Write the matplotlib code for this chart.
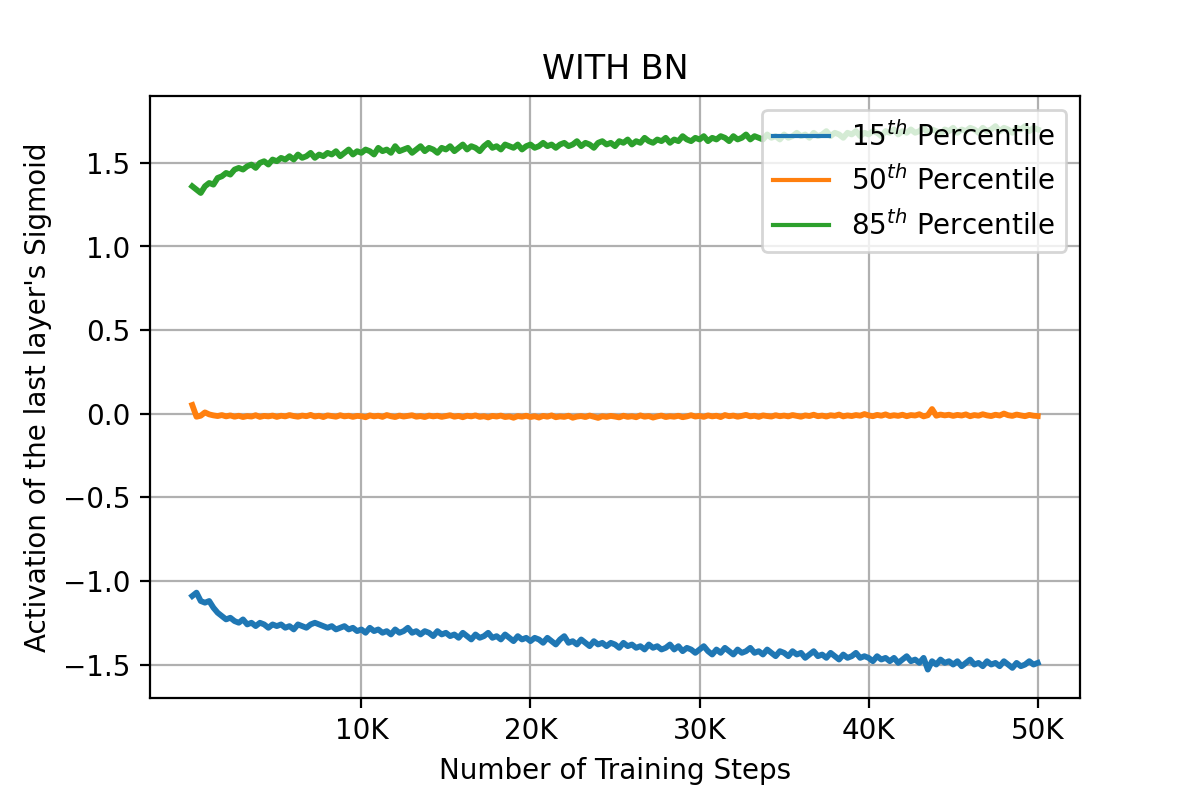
# plot.py
# Activation percentiles of the last sigmoid layer with batch norm

import numpy as np
import matplotlib
matplotlib.use("Agg")
import matplotlib.pyplot as plt

# ── Data (one value every 250 steps) ─────────────────────────────────────────
steps = np.arange(0, 50001, 250)

p15 = [
    -1.09, -1.07, -1.12, -1.13, -1.12, -1.16, -1.19, -1.21, -1.23, -1.22,
    -1.24, -1.25, -1.23, -1.26, -1.25, -1.27, -1.25, -1.26, -1.28, -1.26,
    -1.27, -1.26, -1.28, -1.27, -1.29, -1.26, -1.27, -1.28, -1.26, -1.25,
    -1.26, -1.27, -1.28, -1.27, -1.29, -1.28, -1.27, -1.29, -1.28, -1.30,
    -1.29, -1.31, -1.28, -1.30, -1.29, -1.31, -1.30, -1.32, -1.29, -1.31,
    -1.30, -1.28, -1.31, -1.30, -1.32, -1.30, -1.31, -1.33, -1.30, -1.32,
    -1.31, -1.33, -1.32, -1.34, -1.31, -1.33, -1.35, -1.32, -1.34, -1.33,
    -1.31, -1.34, -1.33, -1.35, -1.32, -1.34, -1.36, -1.33, -1.35, -1.34,
    -1.36, -1.34, -1.35, -1.37, -1.34, -1.36, -1.38, -1.35, -1.33, -1.37,
    -1.36, -1.38, -1.35, -1.37, -1.39, -1.36, -1.38, -1.37, -1.39, -1.37,
    -1.38, -1.40, -1.37, -1.39, -1.38, -1.40, -1.39, -1.41, -1.38, -1.40,
    -1.39, -1.41, -1.40, -1.38, -1.41, -1.39, -1.42, -1.40, -1.41, -1.43,
    -1.41, -1.39, -1.42, -1.44, -1.41, -1.43, -1.40, -1.42, -1.44, -1.41,
    -1.43, -1.42, -1.40, -1.43, -1.42, -1.44, -1.41, -1.43, -1.45, -1.42,
    -1.43, -1.45, -1.42, -1.44, -1.43, -1.46, -1.44, -1.42, -1.45, -1.44,
    -1.46, -1.43, -1.45, -1.47, -1.44, -1.46, -1.45, -1.43, -1.46, -1.45,
    -1.46, -1.48, -1.45, -1.47, -1.46, -1.48, -1.46, -1.49, -1.47, -1.45,
    -1.48, -1.47, -1.49, -1.46, -1.53, -1.48, -1.50, -1.47, -1.49, -1.48,
    -1.50, -1.48, -1.51, -1.49, -1.47, -1.50, -1.49, -1.51, -1.48, -1.50,
    -1.49, -1.51, -1.48, -1.50, -1.52, -1.49, -1.51, -1.50, -1.48, -1.50,
    -1.49,
]

p50 = [
    0.052, -0.018, -0.012, 0.008, -0.004, -0.010, -0.014, -0.008, -0.016, -0.010,
    -0.018, -0.012, -0.020, -0.014, -0.017, -0.009, -0.019, -0.013, -0.016, -0.011,
    -0.019, -0.012, -0.016, -0.008, -0.014, -0.018, -0.011, -0.015, -0.007, -0.017,
    -0.012, -0.020, -0.010, -0.014, -0.018, -0.009, -0.016, -0.012, -0.019, -0.013,
    -0.015, -0.021, -0.010, -0.016, -0.012, -0.019, -0.008, -0.015, -0.020, -0.011,
    -0.017, -0.013, -0.009, -0.018, -0.014, -0.020, -0.011, -0.016, -0.012, -0.019,
    -0.014, -0.009, -0.018, -0.013, -0.021, -0.012, -0.016, -0.010, -0.019, -0.015,
    -0.022, -0.013, -0.017, -0.011, -0.020, -0.016, -0.024, -0.014, -0.018, -0.012,
    -0.020, -0.015, -0.023, -0.013, -0.018, -0.010, -0.021, -0.016, -0.019, -0.012,
    -0.024, -0.017, -0.014, -0.020, -0.011, -0.018, -0.025, -0.015, -0.019, -0.013,
    -0.017, -0.022, -0.012, -0.019, -0.015, -0.021, -0.010, -0.018, -0.014, -0.023,
    -0.016, -0.011, -0.020, -0.015, -0.018, -0.012, -0.021, -0.016, -0.009, -0.017,
    -0.013, -0.019, -0.010, -0.016, -0.012, -0.020, -0.008, -0.015, -0.011, -0.018,
    -0.013, -0.007, -0.016, -0.012, -0.019, -0.010, -0.014, -0.017, -0.009, -0.015,
    -0.011, -0.016, -0.008, -0.013, -0.018, -0.010, -0.014, -0.006, -0.015, -0.011,
    -0.017, -0.009, -0.013, -0.005, -0.016, -0.010, -0.014, -0.008, -0.012, -0.002,
    -0.010, -0.015, -0.007, -0.012, -0.004, -0.014, -0.009, -0.013, -0.006, -0.015,
    -0.008, -0.011, -0.003, -0.016, -0.009, 0.028, -0.012, -0.005, -0.010, -0.006,
    -0.013, -0.007, -0.011, -0.004, -0.015, -0.008, -0.012, -0.003, -0.010, -0.014,
    -0.006, -0.011, 0.001, -0.009, -0.013, -0.005, -0.010, -0.015, -0.007, -0.012,
    -0.014,
]

p85 = [
    1.36, 1.34, 1.32, 1.36, 1.38, 1.37, 1.41, 1.42, 1.44, 1.43,
    1.46, 1.47, 1.46, 1.48, 1.49, 1.47, 1.50, 1.51, 1.49, 1.52,
    1.51, 1.53, 1.52, 1.54, 1.52, 1.55, 1.53, 1.54, 1.56, 1.53,
    1.55, 1.54, 1.56, 1.55, 1.57, 1.54, 1.56, 1.58, 1.55, 1.57,
    1.56, 1.58, 1.57, 1.55, 1.59, 1.57, 1.58, 1.56, 1.60, 1.57,
    1.58, 1.59, 1.56, 1.58, 1.60, 1.57, 1.59, 1.58, 1.56, 1.59,
    1.58, 1.60, 1.57, 1.59, 1.61, 1.58, 1.60, 1.59, 1.57, 1.60,
    1.62, 1.59, 1.60, 1.58, 1.61, 1.60, 1.59, 1.61, 1.58, 1.60,
    1.61, 1.59, 1.60, 1.62, 1.60, 1.61, 1.59, 1.61, 1.62, 1.60,
    1.61, 1.63, 1.60, 1.62, 1.61, 1.59, 1.62, 1.63, 1.61, 1.62,
    1.60, 1.63, 1.62, 1.64, 1.61, 1.63, 1.62, 1.65, 1.63, 1.62,
    1.64, 1.63, 1.65, 1.62, 1.64, 1.63, 1.66, 1.64, 1.63, 1.65,
    1.64, 1.66, 1.63, 1.65, 1.64, 1.66, 1.65, 1.63, 1.66, 1.64,
    1.65, 1.67, 1.64, 1.66, 1.65, 1.64, 1.67, 1.65, 1.66, 1.64,
    1.67, 1.65, 1.66, 1.68, 1.66, 1.67, 1.65, 1.68, 1.66, 1.67,
    1.69, 1.66, 1.68, 1.67, 1.65, 1.68, 1.67, 1.69, 1.66, 1.68,
    1.67, 1.69, 1.68, 1.66, 1.69, 1.68, 1.70, 1.67, 1.69, 1.68,
    1.70, 1.68, 1.69, 1.71, 1.68, 1.70, 1.69, 1.67, 1.70, 1.69,
    1.71, 1.68, 1.70, 1.69, 1.71, 1.70, 1.68, 1.71, 1.69, 1.70,
    1.72, 1.69, 1.71, 1.70, 1.68, 1.71, 1.70, 1.72, 1.69, 1.71,
    1.70,
]

labels = [r"$15^{th}$ Percentile", r"$50^{th}$ Percentile", r"$85^{th}$ Percentile"]
xtick_vals = [10000, 20000, 30000, 40000, 50000]
xtick_labels = ["10K", "20K", "30K", "40K", "50K"]

# ── Figure ───────────────────────────────────────────────────────────────────
fig, ax = plt.subplots(figsize=(6, 4), dpi=200)
fig.subplots_adjust(left=0.125, right=0.9, top=0.88, bottom=0.1275)

# slightly heavier lines stand in for the dense noise band of the original
for series, lab in zip([p15, p50, p85], labels):
    ax.plot(steps, series, linewidth=2.1, label=lab)

ax.set_xticks(xtick_vals)
ax.set_xticklabels(xtick_labels)
ax.set_ylim(-1.70, 1.90)
ax.set_title("WITH BN")
ax.set_xlabel("Number of Training Steps")
ax.set_ylabel("Activation of the last layer's Sigmoid")
ax.grid(True)
leg = ax.legend(loc="upper right")
for h in leg.get_lines():
    h.set_linewidth(1.5)

plt.savefig("out.png", dpi=200)
plt.close()
